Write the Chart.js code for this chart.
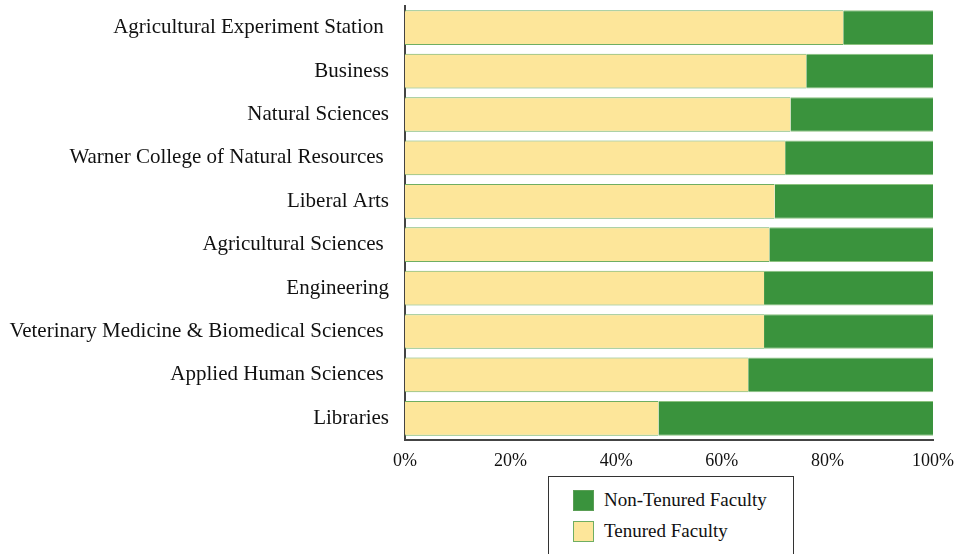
<!DOCTYPE html>
<html>
<head>
<meta charset="utf-8">
<script src="https://cdn.jsdelivr.net/npm/chart.js@4"></script>
<style>
  body { margin: 0; background: #fff; }
  #wrap { position: relative; width: 954px; height: 554px; overflow: hidden; }
  #legend {
    position: absolute; left: 548px; top: 476px; width: 246px; height: 90px;
    border: 1px solid #333; box-sizing: border-box; background: #fff;
    font-family: "Liberation Serif", serif; font-size: 19px; color: #111;
  }
  .item { position: absolute; left: 24px; display: flex; align-items: center; }
  .swatch { width: 21px; height: 21px; box-sizing: border-box; margin-right: 10px; }
</style>
</head>
<body>
<div id="wrap">
  <canvas id="faculty_graph" width="954" height="554"></canvas>
  <div id="legend"></div>
</div>
<script>
// colleges, top to bottom
const colleges = [
  "Agricultural Experiment Station ",
  "Business",
  "Natural Sciences",
  "Warner College of Natural Resources ",
  "Liberal Arts",
  "Agricultural Sciences ",
  "Engineering",
  "Veterinary Medicine & Biomedical Sciences ",
  "Applied Human Sciences ",
  "Libraries"
];
// share of faculty, percent
const tenured    = [83, 76, 73, 72, 70, 69, 68, 68, 65, 48];
const nonTenured = [17, 24, 27, 28, 30, 31, 32, 32, 35, 52];
const xTicks = [0, 20, 40, 60, 80, 100];

const yellow = "#fde69a";
const green = "#3a933d";
const serif = "Liberation Serif";

const ctx = document.getElementById("faculty_graph");

const chart = new Chart(ctx, {
  type: 'bar',
  data: {
    labels: colleges,
    datasets: [
      {
        label: "Tenured Faculty",
        data: tenured,
        backgroundColor: yellow,
        borderColor: "#6fae62",
        borderWidth: { top: 1, bottom: 1, left: 0, right: 0 },
        borderSkipped: false,
        barPercentage: 0.8,
        categoryPercentage: 1
      },
      {
        label: "Non-Tenured Faculty",
        data: nonTenured,
        backgroundColor: green,
        borderColor: "#8cc27f",
        borderWidth: { top: 1, bottom: 1, left: 0, right: 0 },
        borderSkipped: false,
        barPercentage: 0.8,
        categoryPercentage: 1
      }
    ]
  },
  options: {
    indexAxis: 'y',
    responsive: false,
    animation: false,
    layout: { padding: { top: 6, right: 21, left: 0, bottom: 0 } },
    scales: {
      x: {
        stacked: true,
        min: 0,
        max: 100,
        afterBuildTicks: function(scale) {
          scale.ticks = xTicks.map(v => ({ value: v }));
        },
        afterFit: function(scale) {
          scale.height = 114;
          scale.paddingLeft = 0;
          scale.paddingRight = 0;
        },
        grid: { display: false, drawTicks: false },
        border: { color: "#444", width: 2 },
        ticks: {
          padding: 10,
          color: "#111",
          font: { family: serif, size: 18 },
          callback: v => v + "%"
        }
      },
      y: {
        stacked: true,
        afterFit: function(scale) {
          scale.width = 405;
          scale.paddingTop = 0;
          scale.paddingBottom = 0;
        },
        grid: { display: false, drawTicks: false },
        border: { color: "#444", width: 2 },
        ticks: {
          padding: 16,
          color: "#111",
          font: { family: serif, size: 21 }
        }
      }
    },
    plugins: {
      legend: { display: false },
      tooltip: { enabled: false }
    }
  }
});

// legend in a box, non-tenured first
const legend = document.getElementById("legend");
const items = chart.data.datasets.slice().reverse();
items.forEach((ds, i) => {
  const row = document.createElement("div");
  row.className = "item";
  row.style.top = (12 + i * 31) + "px";
  const sw = document.createElement("span");
  sw.className = "swatch";
  sw.style.background = ds.backgroundColor;
  sw.style.border = "1px solid " + (i == 0 ? "#5a9e55" : "#6fae62");
  row.appendChild(sw);
  row.appendChild(document.createTextNode(ds.label));
  legend.appendChild(row);
});
</script>
</body>
</html>
